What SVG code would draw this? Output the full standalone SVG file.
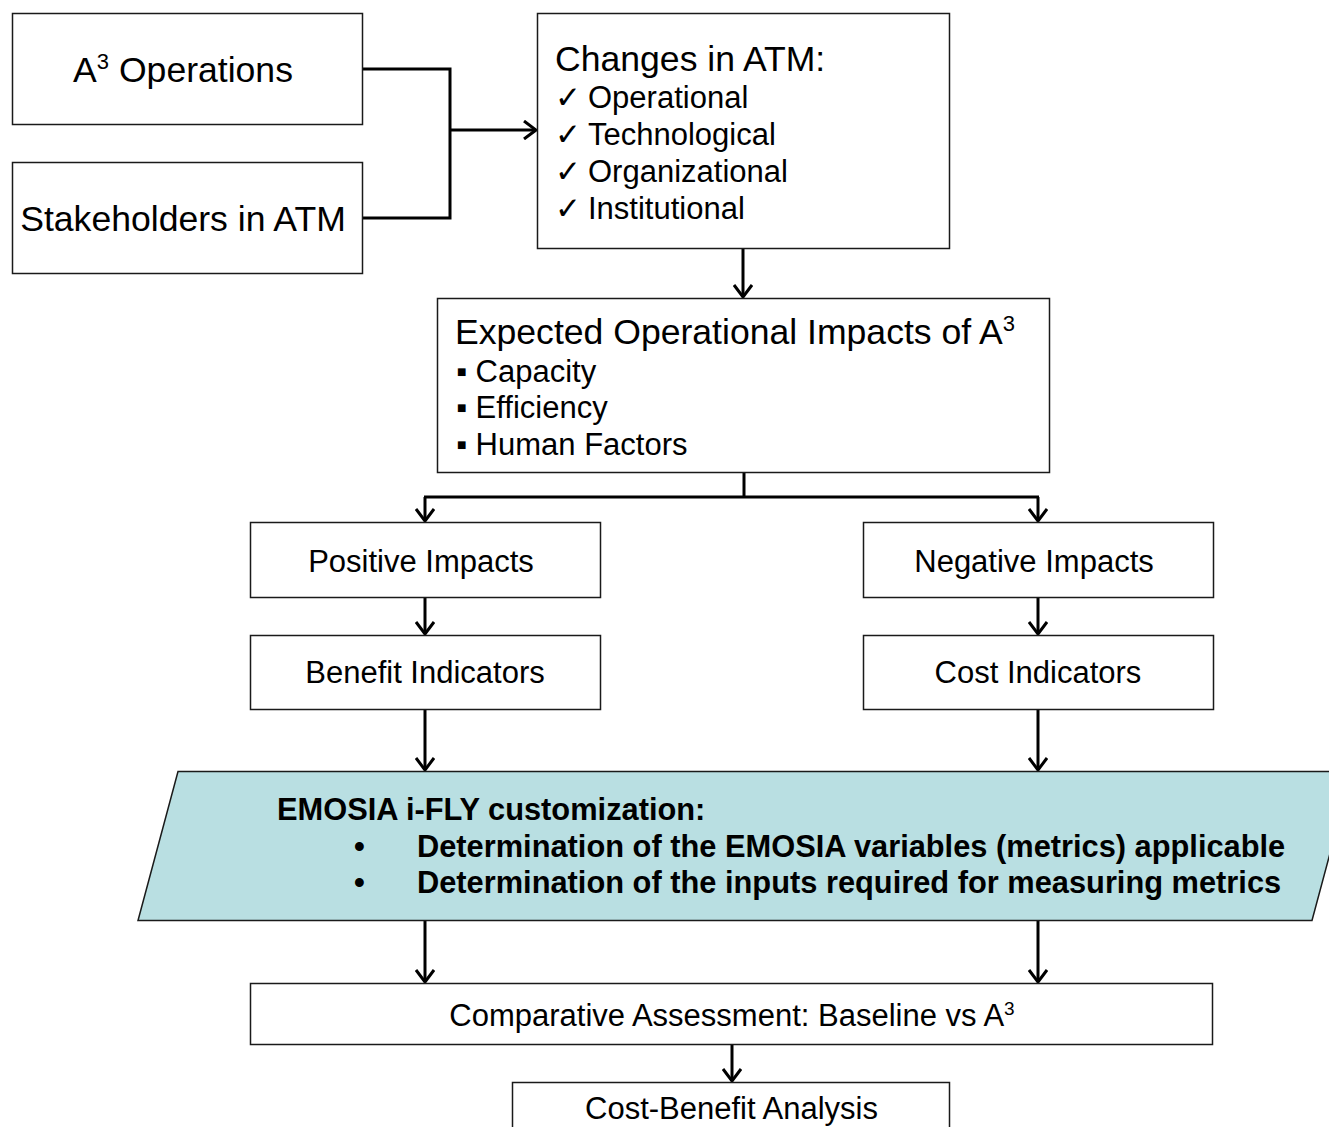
<svg xmlns="http://www.w3.org/2000/svg" width="1329" height="1127" viewBox="0 0 1329 1127">
  <style>
    .box { fill: #ffffff; stroke: #1a1a1a; stroke-width: 1.5; }
    .para { fill: #b9dfe2; stroke: #1a1a1a; stroke-width: 1.5; }
    .t { font-family: "Liberation Sans", Arial, "DejaVu Sans", sans-serif; fill: #000; }
    .big { font-size: 35.6px; }
    .mid { font-size: 31px; }
    .bold { font-size: 30.8px; font-weight: bold; }
    .mk { font-family: "DejaVu Sans", "Liberation Sans", sans-serif; font-size: 31px; }
    .wire { fill: none; stroke: #000; stroke-width: 3; }
  </style>
  <defs>
    <marker id="arrow" markerUnits="userSpaceOnUse" markerWidth="16" markerHeight="20" viewBox="0 0 16 20" refX="14" refY="10" orient="auto">
      <path d="M2,1 L14,10 L2,19" fill="none" stroke="#000" stroke-width="3"/>
    </marker>
  </defs>

  <rect width="1329" height="1127" fill="#ffffff"/>

  <!-- connectors -->
  <g id="connectors">
    <path class="wire" d="M363,69 H450 V218 H363"/>
    <path class="wire" d="M450,130 H536" marker-end="url(#arrow)"/>
    <path class="wire" d="M743,249 V297" marker-end="url(#arrow)"/>
    <path class="wire" d="M744,473 V497"/>
    <path class="wire" d="M424,497 H1039"/>
    <path class="wire" d="M425,497 V521" marker-end="url(#arrow)"/>
    <path class="wire" d="M1038,497 V521" marker-end="url(#arrow)"/>
    <path class="wire" d="M425,598 V634" marker-end="url(#arrow)"/>
    <path class="wire" d="M1038,598 V634" marker-end="url(#arrow)"/>
    <path class="wire" d="M425,710 V770" marker-end="url(#arrow)"/>
    <path class="wire" d="M1038,710 V770" marker-end="url(#arrow)"/>
    <path class="wire" d="M425,920 V982" marker-end="url(#arrow)"/>
    <path class="wire" d="M1038,920 V982" marker-end="url(#arrow)"/>
    <path class="wire" d="M732,1045 V1081" marker-end="url(#arrow)"/>
  </g>

  <g id="a3-operations">
    <rect class="box" x="12.5" y="13.5" width="350" height="111"/>
    <text class="t big" x="183" y="82" text-anchor="middle">A<tspan font-size="22" dy="-13">3</tspan><tspan dy="13"> Operations</tspan></text>
  </g>

  <g id="stakeholders">
    <rect class="box" x="12.5" y="162.5" width="350" height="111"/>
    <text class="t big" x="183" y="231" text-anchor="middle">Stakeholders in ATM</text>
  </g>

  <g id="changes-in-atm">
    <rect class="box" x="537.5" y="13.5" width="412" height="235"/>
    <text class="t big" x="555" y="71">Changes in ATM:</text>
    <text class="mk" x="555" y="108">✓</text>
    <text class="t mid" x="588" y="108">Operational</text>
    <text class="mk" x="555" y="145">✓</text>
    <text class="t mid" x="588" y="145">Technological</text>
    <text class="mk" x="555" y="182">✓</text>
    <text class="t mid" x="588" y="182">Organizational</text>
    <text class="mk" x="555" y="219">✓</text>
    <text class="t mid" x="588" y="219">Institutional</text>
  </g>

  <g id="expected-impacts">
    <rect class="box" x="437.5" y="298.5" width="612" height="174"/>
    <text class="t big" x="455" y="344">Expected Operational Impacts of A<tspan font-size="22" dy="-13">3</tspan></text>
    <text class="t mid" x="456" y="382">▪ Capacity</text>
    <text class="t mid" x="456" y="418">▪ Efficiency</text>
    <text class="t mid" x="456" y="455">▪ Human Factors</text>
  </g>

  <g id="positive-impacts">
    <rect class="box" x="250.5" y="522.5" width="350" height="75"/>
    <text class="t mid" x="421" y="572" text-anchor="middle">Positive Impacts</text>
  </g>

  <g id="negative-impacts">
    <rect class="box" x="863.5" y="522.5" width="350" height="75"/>
    <text class="t mid" x="1034" y="572" text-anchor="middle">Negative Impacts</text>
  </g>

  <g id="benefit-indicators">
    <rect class="box" x="250.5" y="635.5" width="350" height="74"/>
    <text class="t mid" x="425" y="683" text-anchor="middle">Benefit Indicators</text>
  </g>

  <g id="cost-indicators">
    <rect class="box" x="863.5" y="635.5" width="350" height="74"/>
    <text class="t mid" x="1038" y="683" text-anchor="middle">Cost Indicators</text>
  </g>

  <g id="emosia-customization">
    <polygon class="para" points="178,771.5 1352,771.5 1312,920.5 138,920.5"/>
    <text class="t bold" x="277" y="820">EMOSIA i-FLY customization:</text>
    <text class="t bold" x="354" y="857">•</text>
    <text class="t bold" x="417" y="857">Determination of the EMOSIA variables (metrics) applicable</text>
    <text class="t bold" x="354" y="893">•</text>
    <text class="t bold" x="417" y="893">Determination of the inputs required for measuring metrics</text>
  </g>

  <g id="comparative-assessment">
    <rect class="box" x="250.5" y="983.5" width="962" height="61"/>
    <text class="t mid" x="732" y="1026" text-anchor="middle">Comparative Assessment: Baseline vs A<tspan font-size="19" dy="-11">3</tspan></text>
  </g>

  <g id="cost-benefit-analysis">
    <rect class="box" x="512.5" y="1082.5" width="437" height="60"/>
    <text class="t mid" x="731.5" y="1119" text-anchor="middle">Cost-Benefit Analysis</text>
  </g>
</svg>
